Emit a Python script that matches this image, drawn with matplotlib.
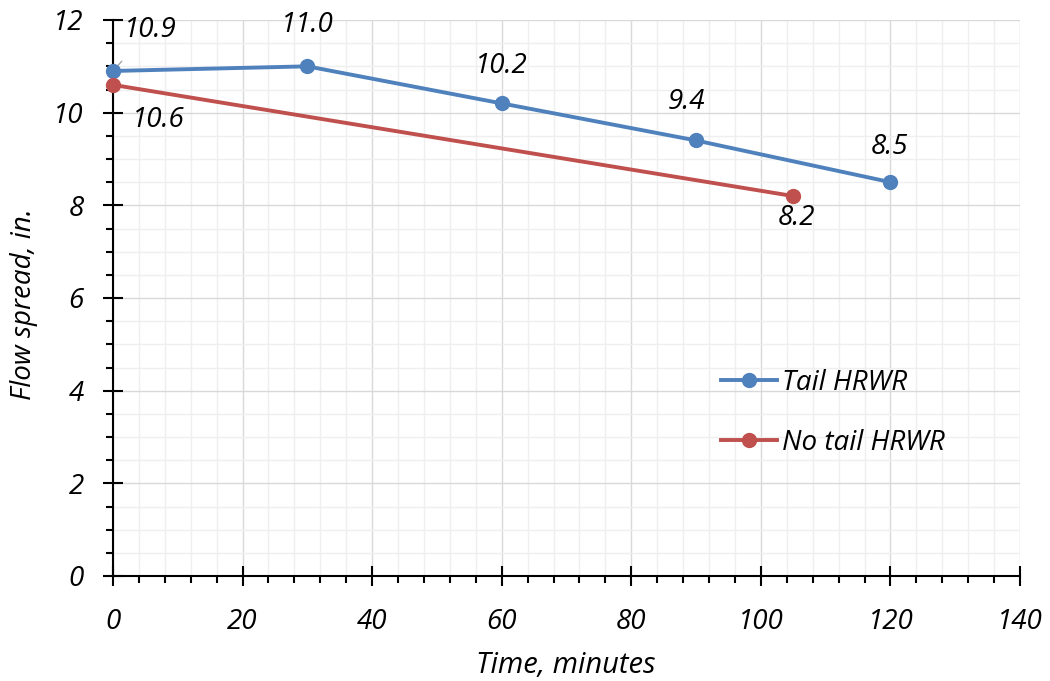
import matplotlib
matplotlib.use("Agg")
import matplotlib.pyplot as plt
from matplotlib.ticker import MultipleLocator

plt.rcParams['font.family'] = ['Open Sans', 'DejaVu Sans']
plt.rcParams['font.style'] = 'italic'

tail_x = [0, 30, 60, 90, 120]
tail_y = [10.9, 11.0, 10.2, 9.4, 8.5]
notail_x = [0, 105]
notail_y = [10.6, 8.2]
tail_label = "Tail HRWR"
notail_label = "No tail HRWR"
xlabel = "Time, minutes"
ylabel = "Flow spread, in."

blue = '#4F81BD'
red = '#C0504D'

fig = plt.figure(figsize=(10.5, 6.81), dpi=100)
W, H = 1050, 681
left, right, top, bottom = 113, 1020, 20, 576
ax = fig.add_axes([left / W, 1 - bottom / H, (right - left) / W, (bottom - top) / H])

ax.plot(tail_x, tail_y, color=blue, lw=2.8, marker='o', ms=10, label=tail_label, zorder=4, clip_on=False)
ax.plot(notail_x, notail_y, color=red, lw=2.8, marker='o', ms=10, label=notail_label, zorder=4, clip_on=False)

ax.set_xlim(0, 140)
ax.set_ylim(0, 12)
ax.xaxis.set_major_locator(MultipleLocator(20))
ax.xaxis.set_minor_locator(MultipleLocator(4))
ax.yaxis.set_major_locator(MultipleLocator(2))
ax.yaxis.set_minor_locator(MultipleLocator(0.5))

ax.grid(which='major', color='#d9d9d9', lw=1.0)
ax.grid(which='minor', color='#efefef', lw=1.0)
ax.set_axisbelow(True)

for s in ['top', 'right']:
    ax.spines[s].set_visible(False)
for s in ['left', 'bottom']:
    ax.spines[s].set_linewidth(1.5)
    ax.spines[s].set_color('black')

ax.tick_params(axis='x', which='major', direction='inout', length=14, width=1.5, pad=16, labelsize=20)
ax.tick_params(axis='x', which='minor', direction='out', length=5, width=1.5)
ax.tick_params(axis='y', which='major', direction='inout', length=14, width=1.5, pad=14, labelsize=20)
ax.tick_params(axis='y', which='minor', direction='out', length=5, width=1.5)

ax.set_xlabel(xlabel, fontsize=21)
ax.set_ylabel(ylabel, fontsize=20)
ax.xaxis.set_label_coords((566 - left) / (right - left), -(651 - bottom) / (bottom - top))
ax.yaxis.set_label_coords(-(113 - 38) / (right - left), (bottom - 304) / (bottom - top))

fs = 20
ax.annotate("10.9", (0, 10.9), xytext=(37, 41), textcoords='offset pixels',
            ha='center', va='center', fontsize=fs,
            arrowprops=dict(arrowstyle='-', color='#a6a6a6', lw=1, shrinkA=14, shrinkB=0))
ax.annotate("11.0", (30, 11.0), xytext=(0, 41), textcoords='offset pixels', ha='center', va='center', fontsize=fs)
ax.annotate("10.2", (60, 10.2), xytext=(0, 37), textcoords='offset pixels', ha='center', va='center', fontsize=fs)
ax.annotate("9.4", (90, 9.4), xytext=(-10, 38), textcoords='offset pixels', ha='center', va='center', fontsize=fs)
ax.annotate("8.5", (120, 8.5), xytext=(-1, 35), textcoords='offset pixels', ha='center', va='center', fontsize=fs)
ax.annotate("10.6", (0, 10.6), xytext=(45, -35), textcoords='offset pixels', ha='center', va='center', fontsize=fs)
ax.annotate("8.2", (105, 8.2), xytext=(3, -22), textcoords='offset pixels', ha='center', va='center', fontsize=fs)

leg = ax.legend(loc='upper left', bbox_to_anchor=((721 - left) / (right - left), (bottom - 369) / (bottom - top)),
                frameon=False, fontsize=20, labelspacing=1.15, handlelength=2.0, handletextpad=0.2,
                borderaxespad=0, borderpad=0)
leg.set_zorder(5)

fig.savefig("out.png", dpi=100)
